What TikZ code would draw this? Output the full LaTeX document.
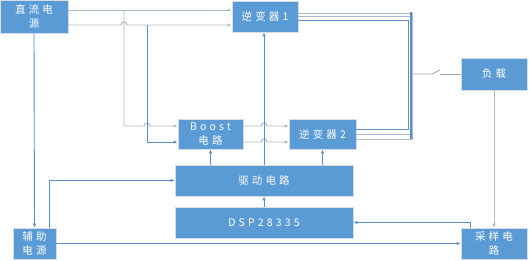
\documentclass[tikz,border=0pt]{standalone}
\usepackage{fontspec}
\newfontfamily\cjk[LetterSpace=30]{Noto Sans CJK SC}
\usepackage{xcolor}
\usetikzlibrary{arrows.meta,positioning}

\definecolor{boxblue}{HTML}{5B9BD5}
\definecolor{wireblue}{HTML}{5B8FCB}
\definecolor{wirepale}{HTML}{A9B8CB}
\definecolor{rimgray}{HTML}{D5DCE6}
\definecolor{swgray}{HTML}{A6A6A6}

\tikzset{
  blk/.style={rectangle, fill=boxblue, draw=rimgray, line width=0.8pt,
    text=white, font=\cjk\fontsize{10.5}{14}\selectfont, align=center,
    inner sep=0pt},
  wire/.style={draw=wireblue, line width=0.9pt},
  pale/.style={draw=wirepale, line width=0.9pt},
  tip/.style={-{Latex[length=4pt,width=3.4pt]}}
}

\begin{document}
\begin{tikzpicture}[x=1pt,y=-1pt]
    \useasboundingbox (0,0) rectangle (529,261);
    % blocks
    \node[blk, minimum width=68pt, minimum height=33pt] (dc) at (34,16.5) {直流电\\源};
    \node[blk, minimum width=66pt, minimum height=31pt] (inv1) at (265,16.5) {逆变器1};
    \node[blk, minimum width=66pt, minimum height=32pt] (load) at (494,74) {负载};
    \node[blk, minimum width=65pt, minimum height=30pt] (boost) at (210.5,134) {Boost\\电路};
    \node[blk, minimum width=67pt, minimum height=30pt] (inv2) at (322.5,134) {逆变器2};
    \node[blk, minimum width=178pt, minimum height=31pt] (drive) at (264,180.5) {驱动电路};
    \node[blk, minimum width=178pt, minimum height=31pt] (dsp) at (264,222.5) {DSP28335};
    \node[blk, minimum width=43pt, minimum height=31pt] (aux) at (34.5,243.5) {辅助\\电源};
    \node[blk, minimum width=66pt, minimum height=31pt] (smp) at (494,243.5) {采样电\\路};
    % taps on the dc bus
    \coordinate (tapp) at (124,10);
    \coordinate (tapn) at (147,25);
    \coordinate (sw) at (412,74);
    % dc source to inverter 1
    \draw[pale,tip] ([yshift=6.5pt]dc.east) -- ([yshift=6.5pt]inv1.west);
    \draw[pale,tip] ([yshift=-8.5pt]dc.east) -- (121,25) arc[start angle=180,end angle=0,radius=3pt]
      -- ([yshift=-8.5pt]inv1.west);
    % dc source to boost
    \draw[pale,tip] (tapp) -- (124,126) -- (144,126) arc[start angle=180,end angle=0,radius=3pt]
      -- ([yshift=8pt]boost.west);
    \draw[wire,tip] (tapn) |- ([yshift=-8pt]boost.west);
    % boost to inverter 2
    \foreach \dy in {8,-8} {
      \coordinate (bo) at ([yshift=\dy pt]boost.east);
      \draw[pale,tip] (bo) -- ([xshift=-3pt]bo -| drive.north)
        arc[start angle=180,end angle=0,radius=3pt] -- ([yshift=\dy pt]inv2.west);
    }
    % inverter outputs onto the ac bus
    \draw[pale] ([yshift=3pt]inv1.east) -| (412,139) -- ([yshift=-5pt]inv2.east);
    \draw[pale] (inv1.east) -| (410,134) -- (inv2.east);
    \draw[wire] ([yshift=-4pt]inv1.east) -| (408,129) -- ([yshift=5pt]inv2.east);
    \draw[wire, line width=1.6pt] (411,12) -- (411,139);
    % open switch to the load
    \draw[swgray, line width=0.8pt] (sw) -- (432,74) -- (440,70);
    \draw[swgray, line width=0.8pt] (440,74) -- (load.west);
    % drive circuit
    \draw[wire,tip] (drive.north) -- (drive.north |- inv1.south);
    \draw[wire,tip] (drive.north -| boost.south) -- (boost.south);
    \draw[wire,tip] (drive.north -| inv2.south) -- (inv2.south);
    \draw[wire,tip] (dsp.north) -- (drive.south);
    % auxiliary supply and sampling
    \draw[wire,tip] (dc.south) -- (aux.north);
    \draw[wire,tip] ([xshift=15pt]aux.north) |- (drive.west);
    \draw[wire,tip] (aux.east) -- (smp.west);
    \draw[pale,tip] (load.south) -- (smp.north);
    \draw[wire,tip] ([xshift=-24pt]smp.north) |- (dsp.east);
  \end{tikzpicture}
\end{document}
